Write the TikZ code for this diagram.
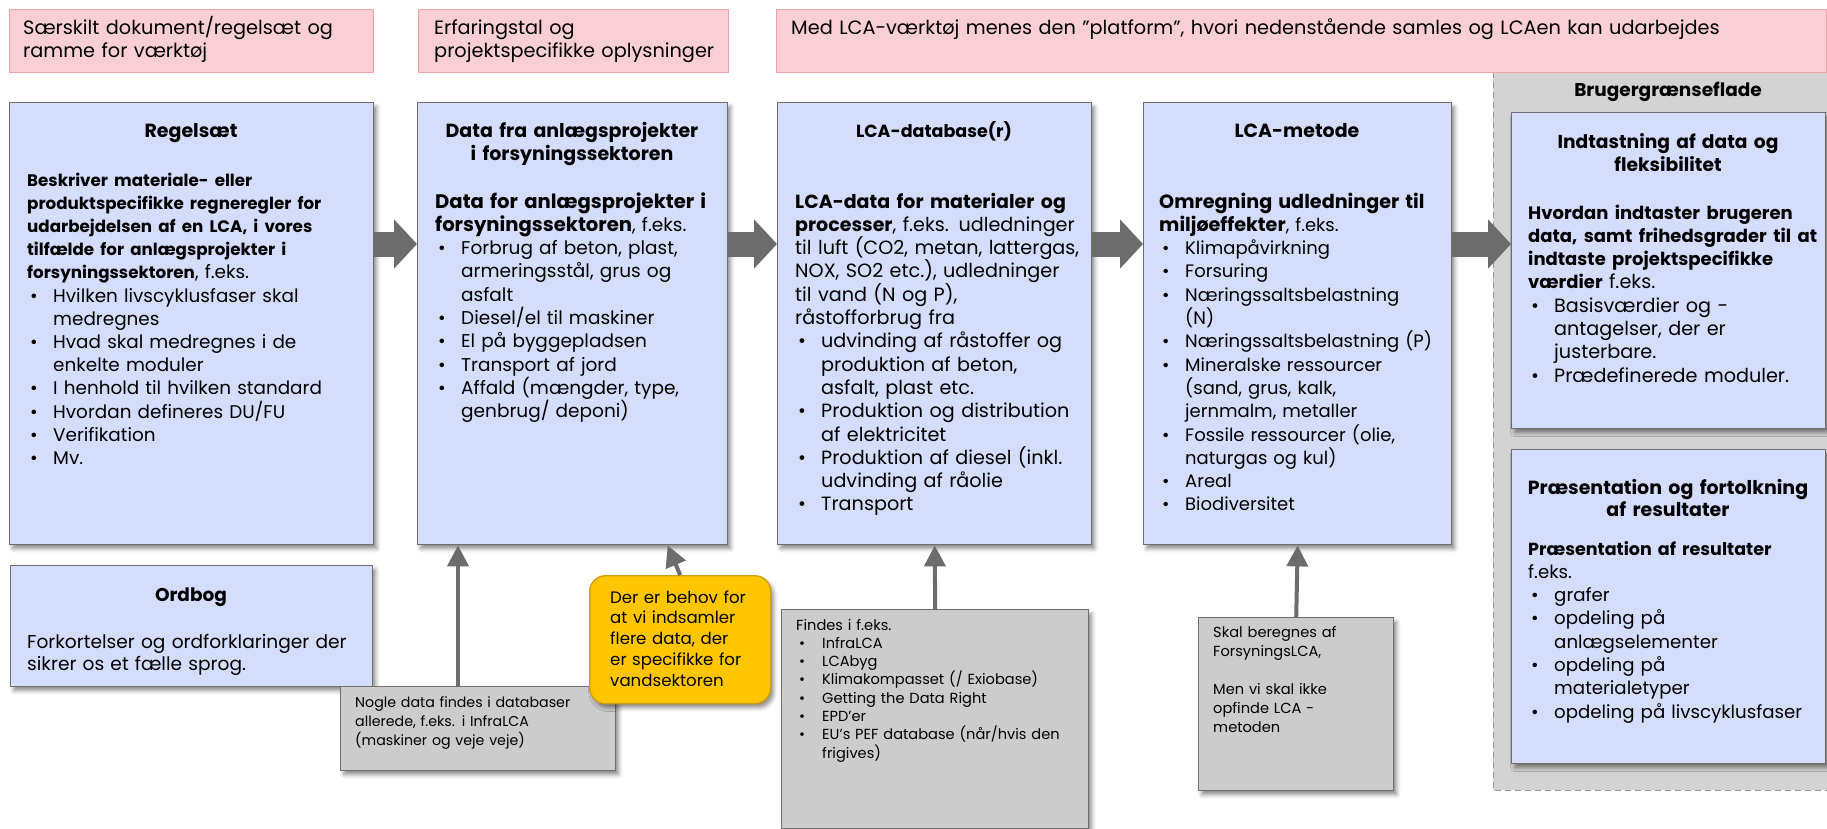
\documentclass[tikz,border=0pt]{standalone}
\usepackage{fontspec}
\setmainfont{Poppins}
\usetikzlibrary{arrows.meta,shadows.blur,calc}
\setlength{\parindent}{0pt}

\definecolor{bluefill}{RGB}{212,221,252}
\definecolor{boxline}{RGB}{110,110,110}
\definecolor{grayfill}{RGB}{204,204,204}
\definecolor{panelfill}{RGB}{211,211,211}
\definecolor{panelline}{RGB}{150,150,150}
\definecolor{pinkfill}{RGB}{249,206,212}
\definecolor{pinkline}{RGB}{242,160,170}
\definecolor{yellowfill}{RGB}{255,198,0}
\definecolor{yellowline}{RGB}{205,158,20}
\definecolor{arrowgray}{RGB}{108,108,108}

% bullet at the start of an item line, indent for its continuation lines
\newcommand{\bitem}{\makebox[26pt][l]{\hspace{3pt}\textbullet}}
\newcommand{\cont}{\hspace*{26pt}}
\newcommand{\fs}[2]{\fontsize{#1}{#2}\selectfont}
% bold lead-in text; its size is set per box in \bsz
\newcommand{\bsz}{18}
\newcommand{\B}[1]{{\fontsize{\bsz}{23}\selectfont\bfseries #1}}

\tikzset{
  boxshadow/.style={blur shadow={shadow xshift=3pt,shadow yshift=-4pt,shadow blur radius=4pt,shadow opacity=45}},
  bluebox/.style={draw=boxline,line width=1.4pt,fill=bluefill,boxshadow,anchor=north west,inner sep=0pt},
  graybox/.style={draw=boxline,line width=1.4pt,fill=grayfill,boxshadow,anchor=north west,inner sep=0pt},
  pinkbox/.style={draw=pinkline,line width=1.4pt,fill=pinkfill,anchor=north west,inner sep=0pt},
  calloutbox/.style={draw=yellowline,line width=1.4pt,fill=yellowfill,rounded corners=16pt,boxshadow,anchor=north west,inner sep=0pt},
  panel/.style={draw=panelline,line width=1pt,fill=panelfill,dash pattern=on 6pt off 4pt},
  titletext/.style={anchor=base,align=center,inner sep=0pt,text width=300pt,font=\fs{19}{23}\bfseries},
  bodytext/.style={anchor=base west,align=left,inner sep=0pt},
  smalltext/.style={anchor=base west,align=left,inner sep=0pt,font=\fs{14.2}{18.5}},
  pinktext/.style={anchor=base west,align=left,inner sep=0pt,font=\fs{19.3}{23}},
  blockarrow/.style={draw=arrowgray,line width=25pt,-{Triangle[length=23pt,width=48pt]}},
  thinarrow/.style={draw=arrowgray,line width=4pt,-{Triangle[length=21pt,width=21pt]}},
}

\begin{document}
\begin{tikzpicture}[x=1pt,y=-1pt]
\useasboundingbox (0,0) rectangle (1827,829);

% user interface panel
\path[panel] (1493,72) rectangle (1845,790);

% header notes
\node[pinkbox,minimum width=364pt,minimum height=63pt] (pink1) at (9,9) {};
\node[pinkbox,minimum width=310pt,minimum height=63pt] (pink2) at (418,9) {};
\node[pinkbox,minimum width=1050pt,minimum height=63pt] (pink3) at (776,9) {};
\node[pinktext,text width=345pt] (pink1t) at (23,35) {Særskilt dokument/regelsæt og\\ramme for værktøj};
\node[pinktext,text width=290pt] (pink2t) at (434,35) {Erfaringstal og\\projektspecifikke oplysninger};
\node[pinktext,text width=1020pt] (pink3t) at (791,35) {Med LCA-værktøj menes den "platform", hvori nedenstående samles og LCAen kan udarbejdes};

% main chain
\node[bluebox,minimum width=364pt,minimum height=442pt] (reg) at (9,102) {};
\node[bluebox,minimum width=310pt,minimum height=442pt] (data) at (417,102) {};
\node[bluebox,minimum width=314pt,minimum height=442pt] (lcadb) at (777,102) {};
\node[bluebox,minimum width=308pt,minimum height=442pt] (metode) at (1143,102) {};
\node[bluebox,minimum width=314pt,minimum height=316pt] (indtast) at (1511,112) {};
\node[bluebox,minimum width=314pt,minimum height=314pt] (praes) at (1511,449) {};
\node[bluebox,minimum width=362pt,minimum height=121pt] (ordbog) at (10,565) {};

% lower notes
\node[graybox,minimum width=275pt,minimum height=84pt] (nogle) at (340,686) {};
\node[graybox,minimum width=307pt,minimum height=219pt] (findes) at (781,609) {};
\node[graybox,minimum width=195pt,minimum height=173pt] (skal) at (1198,617) {};
\node[calloutbox,minimum width=181pt,minimum height=128pt] (callout) at (589,575) {};

% block arrows between the stages
\coordinate (row) at (0,244);
\draw[blockarrow] (reg.east |- row) -- (data.west |- row);
\draw[blockarrow] (data.east |- row) -- (lcadb.west |- row);
\draw[blockarrow] (lcadb.east |- row) -- (metode.west |- row);
\draw[blockarrow] (metode.east |- row) -- (indtast.west |- row);

% thin arrows from the notes
\coordinate (nogleX) at (458,0);
\draw[thinarrow] (nogle.north -| nogleX) -- (data.south -| nogleX);
\draw[thinarrow] (callout.north) -- ($(data.south)+(95,0)$);
\draw[thinarrow] (findes.north) -- (lcadb.south);
\draw[thinarrow] (skal.north) -- (metode.south);

% titles
\node[titletext] (regT) at (191,138) {Regelsæt};
\node[titletext] (dataT) at (572,138) {Data fra anlægsprojekter\\i forsyningssektoren};
\node[titletext,font=\fs{17.5}{23}\bfseries] (lcadbT) at (934,138) {LCA-database(r)};
\node[titletext] (metodeT) at (1297,138) {LCA-metode};
\node[titletext,font=\fs{18.5}{23}\bfseries] (panelT) at (1668,97) {Brugergrænseflade};
\node[titletext,font=\fs{18.7}{23}\bfseries] (indtastT) at (1668,149) {Indtastning af data og\\fleksibilitet};
\node[titletext,font=\fs{19}{22}\bfseries] (praesT) at (1668,494) {Præsentation og fortolkning\\af resultater};
\node[titletext,font=\fs{18.5}{23}\bfseries] (ordbogT) at (191,601) {Ordbog};

% bodies
\node[bodytext,text width=345pt,font=\fs{18.4}{23.2}] (regB) at (27,186) {%
\renewcommand{\bsz}{16.7}%
\B{Beskriver materiale- eller}\\
\B{produktspecifikke regneregler for}\\
\B{udarbejdelsen af en LCA, i vores}\\
\B{tilfælde for anlægsprojekter i}\\
\B{forsyningssektoren}, f.eks.\\
\bitem Hvilken livscyklusfaser skal\\
\cont medregnes\\
\bitem Hvad skal medregnes i de\\
\cont enkelte moduler\\
\bitem I henhold til hvilken standard\\
\bitem Hvordan defineres DU/FU\\
\bitem Verifikation\\
\bitem Mv.};

\node[bodytext,text width=290pt,font=\fs{18.5}{23.3}] (dataB) at (435,208) {%
\renewcommand{\bsz}{19.6}%
\B{Data for anlægsprojekter i}\\
\B{forsyningssektoren}, f.eks.\\
\bitem Forbrug af beton, plast,\\
\cont armeringsstål, grus og\\
\cont asfalt\\
\bitem Diesel/el til maskiner\\
\bitem El på byggepladsen\\
\bitem Transport af jord\\
\bitem Affald (mængder, type,\\
\cont genbrug/ deponi)};

\node[bodytext,text width=295pt,font=\fs{19.2}{23.3}] (lcadbB) at (795,208) {%
\renewcommand{\bsz}{19}%
\B{LCA-data for materialer og}\\
\B{processer}, f.eks. udledninger\\
til luft (CO2, metan, lattergas,\\
NOX, SO2 etc.), udledninger\\
til vand (N og P),\\
råstofforbrug fra\\
\bitem udvinding af råstoffer og\\
\cont produktion af beton,\\
\cont asfalt, plast etc.\\
\bitem Produktion og distribution\\
\cont af elektricitet\\
\bitem Produktion af diesel (inkl.\\
\cont udvinding af råolie\\
\bitem Transport};

\node[bodytext,text width=290pt,font=\fs{18}{23.3}] (metodeB) at (1159,208) {%
\renewcommand{\bsz}{19.2}%
\B{Omregning udledninger til}\\
\B{miljøeffekter}, f.eks.\\
\bitem Klimapåvirkning\\
\bitem Forsuring\\
\bitem Næringssaltsbelastning\\
\cont (N)\\
\bitem Næringssaltsbelastning (P)\\
\bitem Mineralske ressourcer\\
\cont (sand, grus, kalk,\\
\cont jernmalm, metaller\\
\bitem Fossile ressourcer (olie,\\
\cont naturgas og kul)\\
\bitem Areal\\
\bitem Biodiversitet};

\node[bodytext,text width=295pt,font=\fs{19.2}{23.3}] (indtastB) at (1528,219) {%
\renewcommand{\bsz}{18}%
\B{Hvordan indtaster brugeren}\\
\B{data, samt frihedsgrader til at}\\
\B{indtaste projektspecifikke}\\
\B{værdier} f.eks.\\
\bitem Basisværdier og -\\
\cont antagelser, der er\\
\cont justerbare.\\
\bitem Prædefinerede moduler.};

\node[bodytext,text width=295pt,font=\fs{18.2}{23.3}] (praesB) at (1528,555) {%
\renewcommand{\bsz}{17.5}%
\B{Præsentation af resultater}\\
f.eks.\\
\bitem grafer\\
\bitem opdeling på\\
\cont anlægselementer\\
\bitem opdeling på\\
\cont materialetyper\\
\bitem opdeling på livscyklusfaser};

\node[bodytext,text width=345pt,font=\fs{18.6}{22}] (ordbogB) at (27,648) {%
Forkortelser og ordforklaringer der\\sikrer os et fælle sprog.};

% note texts
\node[smalltext,text width=255pt,font=\fs{14.2}{19}] (nogleB) at (355,707) {%
Nogle data findes i databaser\\allerede, f.eks. i InfraLCA\\(maskiner og veje veje)};

\node[bodytext,text width=165pt,font=\fs{16.6}{20.8}] (calloutB) at (610,603) {%
Der er behov for\\at vi indsamler\\flere data, der\\er specifikke for\\vandsektoren};

\node[smalltext,text width=290pt,font=\fs{14.6}{18.3}] (findesB) at (796,630) {%
Findes i f.eks.\\
\bitem InfraLCA\\
\bitem LCAbyg\\
\bitem Klimakompasset (/ Exiobase)\\
\bitem Getting the Data Right\\
\bitem EPD'er\\
\bitem EU's PEF database (når/hvis den\\
\cont frigives)};

\node[smalltext,text width=175pt,font=\fs{14.6}{19}] (skalB) at (1213,637) {%
Skal beregnes af\\ForsyningsLCA,\\[19pt]Men vi skal ikke\\opfinde LCA -\\metoden};
\end{tikzpicture}
\end{document}
